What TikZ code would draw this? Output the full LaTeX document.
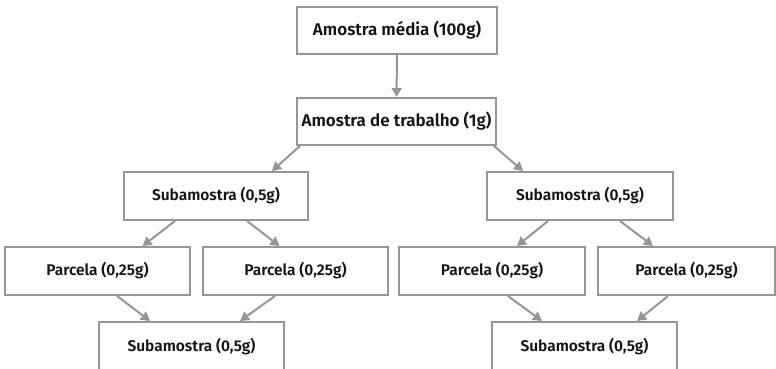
\documentclass[tikz,border=0pt]{standalone}
\usepackage{fontspec}
\setmainfont{Fira Sans}[BoldFont={Fira Sans SemiBold}]
\usetikzlibrary{arrows.meta}
\definecolor{boxgray}{RGB}{150,150,150}
\definecolor{txt}{RGB}{20,20,20}
\begin{document}
\begin{tikzpicture}[x=1pt,y=-1pt,
  box/.style={draw=boxgray,line width=2pt,fill=white,minimum height=47pt,inner sep=0pt,
    font=\fontsize{15.5}{18}\selectfont\bfseries,text=txt},
  bigbox/.style={box,font=\fontsize{17}{20}\selectfont\bfseries},
  arr/.style={draw=boxgray,line width=2pt,-{Triangle[length=9pt,width=10pt]}}]
\useasboundingbox (0,0) rectangle (776,369);
\clip (0,0) rectangle (776,369);
\node[bigbox,minimum width=200pt] (top) at (397,30.5) {Amostra média (100g)};
\node[bigbox,minimum width=199pt] (work) at (396.5,121.5) {Amostra de trabalho (1g)};
\node[box,minimum width=184pt,minimum height=48pt] (subL) at (216,196) {Subamostra (0,5g)};
\node[box,minimum width=186pt,minimum height=48pt] (subR) at (580,196) {Subamostra (0,5g)};
\node[box,minimum width=185pt,minimum height=48pt] (p1) at (97.5,271) {Parcela (0,25g)};
\node[box,minimum width=185pt,minimum height=48pt] (p2) at (295.5,271) {Parcela (0,25g)};
\node[box,minimum width=186pt,minimum height=48pt] (p3) at (492,271) {Parcela (0,25g)};
\node[box,minimum width=177pt,minimum height=48pt] (p4) at (686.5,271) {Parcela (0,25g)};
\node[box,minimum width=185pt,minimum height=50pt] (b1) at (191.5,347) {Subamostra (0,5g)};
\node[box,minimum width=185pt,minimum height=50pt] (b2) at (584.5,347) {Subamostra (0,5g)};
\draw[arr] (top) -- (work);
\draw[arr] ([xshift=4pt]work.south west) -- ([xshift=56pt]subL.north);
\draw[arr] ([xshift=-3pt]work.south east) -- ([xshift=-57pt]subR.north);
\draw[arr] ([xshift=-41pt]subL.south) -- ([xshift=45pt]p1.north);
\draw[arr] ([xshift=31pt]subL.south) -- ([xshift=-16pt]p2.north);
\draw[arr] ([xshift=-32pt]subR.south) -- ([xshift=25pt]p3.north);
\draw[arr] ([xshift=40pt]subR.south) -- ([xshift=-33.5pt]p4.north);
\draw[arr] ([xshift=19.5pt]p1.south) -- ([xshift=-41.5pt]b1.north);
\draw[arr] ([xshift=-20.5pt]p2.south) -- ([xshift=48.5pt]b1.north);
\draw[arr] ([xshift=16pt]p3.south) -- ([xshift=-42.5pt]b2.north);
\draw[arr] ([xshift=-18.5pt]p4.south) -- ([xshift=52.5pt]b2.north);
\end{tikzpicture}
\end{document}
